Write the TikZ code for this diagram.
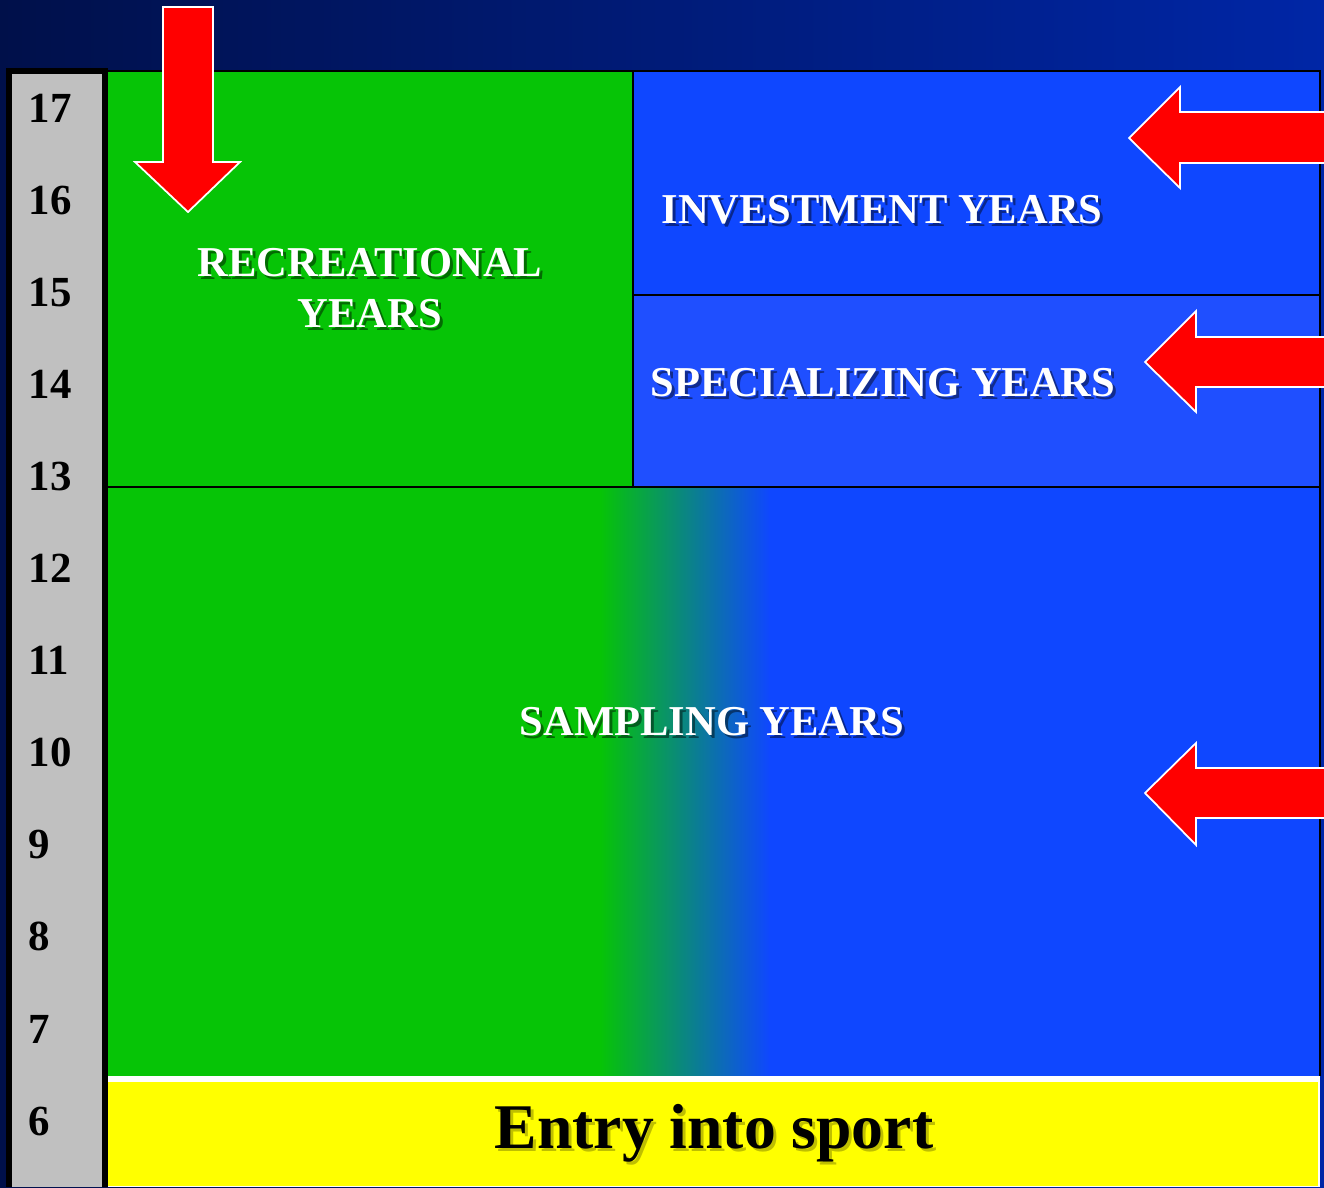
\documentclass[tikz,border=0pt]{standalone}
\usepackage{fontspec}
\setmainfont{Liberation Serif}
\definecolor{navyL}{HTML}{00104A}
\definecolor{navyR}{HTML}{0026A6}
\definecolor{grn}{HTML}{06C406}
\definecolor{blu}{HTML}{0F47FF}
\definecolor{bluL}{HTML}{1F4FFF}
\definecolor{gry}{HTML}{C0C0C0}
\definecolor{yel}{HTML}{FFFF00}
\definecolor{arr}{HTML}{FF0000}
\begin{document}
\begin{tikzpicture}[x=0.01cm,y=-0.01cm,
  lab/.style={font=\bfseries\fontsize{12.1}{14.5}\selectfont, text=white, align=center, inner sep=0pt},
  labshd/.style={font=\bfseries\fontsize{12.1}{14.5}\selectfont, text=black, opacity=0.45, align=center, inner sep=0pt},
  big/.style={font=\bfseries\fontsize{18.1}{20}\selectfont, text=black, inner sep=0pt},
  bigshd/.style={font=\bfseries\fontsize{18.1}{20}\selectfont, text=black, opacity=0.25, inner sep=0pt},
  num/.style={font=\bfseries\fontsize{12.2}{14}\selectfont, text=black, anchor=west, inner sep=0pt},
  redarrow/.style={fill=arr, draw=white, line width=0.5pt, line join=miter},
  edge/.style={draw=black, line width=0.45pt}]
\useasboundingbox (0,0) rectangle (1324,1187);
% background
\shade[left color=navyL, right color=navyR] (0,0) rectangle (1324,1187);
% age bar
\fill[black] (6,68) rectangle (108,1187);
\fill[gry] (12,74) rectangle (102,1187);
% regions
\fill[grn] (108,71) rectangle (633,487);
\fill[blu] (633,71) rectangle (1320,295);
\fill[bluL] (633,295) rectangle (1320,487);
\fill[grn] (108,487) rectangle (601,1076);
\shade[left color=grn, right color=blu] (600,487) rectangle (770,1076);
\fill[blu] (769,487) rectangle (1320,1076);
\draw[edge] (108,71) -- (1320,71) -- (1320,1076);
\draw[edge] (633,71) -- (633,487);
\draw[edge] (633,295) -- (1320,295);
\draw[edge] (108,487) -- (1320,487);
% entry band
\fill[white] (108,1076) rectangle (1320,1187);
\fill[yel] (108,1082) rectangle (1318,1186);
% arrows
\path[redarrow] (163,7) -- (213,7) -- (213,162) -- (240,162) -- (188,212) -- (135,162) -- (163,162) -- cycle;
\path[redarrow] (1335,112) -- (1180,112) -- (1180,87) -- (1129,138) -- (1180,188) -- (1180,163) -- (1335,163) -- cycle;
\path[redarrow] (1335,337) -- (1196,337) -- (1196,311) -- (1145,362) -- (1196,412) -- (1196,387) -- (1335,387) -- cycle;
\path[redarrow] (1335,768) -- (1196,768) -- (1196,743) -- (1145,793) -- (1196,845) -- (1196,818) -- (1335,818) -- cycle;
% age numbers
\foreach \a [count=\i from 0] in {17,16,15,14,13,12,11,10,9,8,7,6}
  \node[num] (age\a) at (28,{108+92.1*\i}) {\a};
% labels
\node[labshd] (recS) at (373,291) {RECREATIONAL\\YEARS};
\node[lab] (rec) at (370,288) {RECREATIONAL\\YEARS};
\node[labshd] (invS) at (885,213) {INVESTMENT YEARS};
\node[lab] (inv) at (882,210) {INVESTMENT YEARS};
\node[labshd] (speS) at (886,386) {SPECIALIZING YEARS};
\node[lab] (spe) at (883,383) {SPECIALIZING YEARS};
\node[labshd] (samS) at (715,725) {SAMPLING YEARS};
\node[lab] (sam) at (712,722) {SAMPLING YEARS};
\node[bigshd] (entS) at (717,1136) {Entry into sport};
\node[big] (ent) at (714,1133) {Entry into sport};
\end{tikzpicture}
\end{document}
